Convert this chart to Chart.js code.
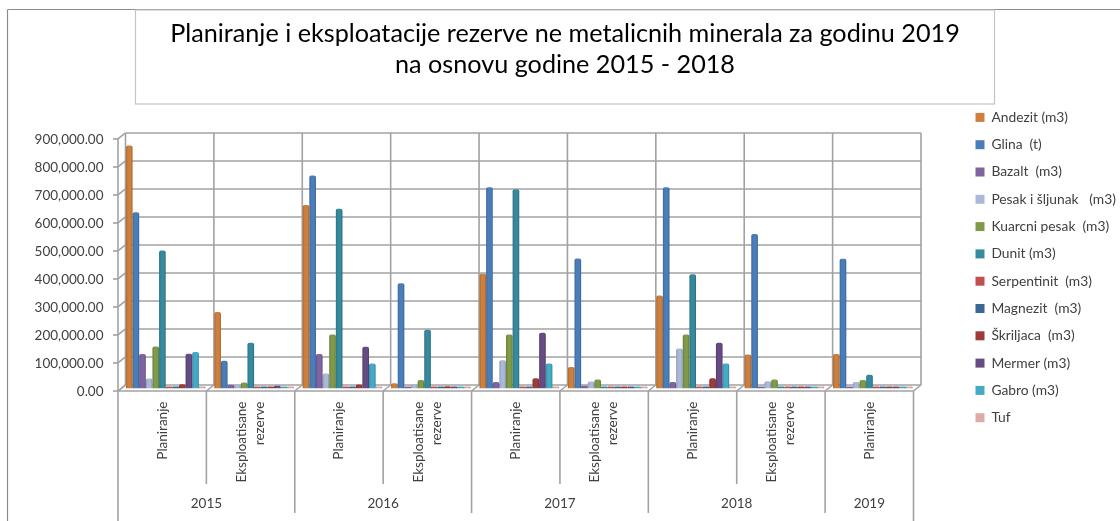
<!DOCTYPE html>
<html>
<head>
<meta charset="utf-8">
<script src="https://cdn.jsdelivr.net/npm/chart.js@4/dist/chart.umd.min.js"></script>
<style>
  body { margin: 0; background: #fff; }
  canvas { display: block; }
</style>
</head>
<body>
<canvas id="myChart" width="1120" height="521"></canvas>
<script>
const titleLines = ['Planiranje i eksploatacije rezerve ne metalicnih minerala za godinu 2019', 'na osnovu godine 2015 - 2018'];
const categories = ['Planiranje', ['Eksploatisane', 'rezerve'], 'Planiranje', ['Eksploatisane', 'rezerve'], 'Planiranje', ['Eksploatisane', 'rezerve'], 'Planiranje', ['Eksploatisane', 'rezerve'], 'Planiranje'];
const years = ['2015', '2016', '2017', '2018', '2019'];
const yearSpans = [2, 2, 2, 2, 1];

const andezit = [868000, 273000, 655000, 19000, 410000, 77000, 332000, 121000, 123000];
const glina = [629000, 99000, 761000, 376000, 719000, 464000, 719000, 552000, 463000];
const bazalt = [123000, 13000, 123000, 3000, 23000, 10000, 23000, 3000, 3000];
const pesak = [36000, 13000, 54000, 14000, 101000, 25000, 143000, 26000, 23000];
const kuarcni = [150000, 21000, 193000, 30000, 193000, 32000, 193000, 32000, 30000];
const dunit = [493000, 163000, 642000, 210000, 712000, 3000, 408000, 2000, 49000];
const serpentinit = [2000, 3000, 2000, 2000, 2000, 2000, 2000, 2000, 3000];
const magnezit = [2000, 3000, 2000, 2000, 2000, 2000, 2000, 2000, 2000];
const skriljaca = [15000, 3000, 14000, 8000, 37000, 2000, 37000, 3000, 3000];
const mermer = [124000, 10000, 149000, 3000, 199000, 2000, 163000, 2000, 2000];
const gabro = [130000, 3000, 89000, 3000, 89000, 2000, 89000, 2000, 2000];
const tuf = [2000, 2000, 2000, 2000, 2000, 2000, 2000, 2000, 2000];

const seriesNames = ['Andezit (m3)', 'Glina  (t)', 'Bazalt  (m3)', 'Pesak i šljunak   (m3)', 'Kuarcni pesak  (m3)', 'Dunit (m3)', 'Serpentinit  (m3)', 'Magnezit  (m3)', 'Škriljaca  (m3)', 'Mermer (m3)', 'Gabro (m3)', 'Tuf'];
const seriesValues = [andezit, glina, bazalt, pesak, kuarcni, dunit, serpentinit, magnezit, skriljaca, mermer, gabro, tuf];
const seriesColors = ['#cf7f3c', '#4a7ebb', '#8064a2', '#aab9d7', '#7f9a48', '#358a9f', '#c0504d', '#3c6696', '#9c3c3a', '#664b85', '#44abc6', '#dfa9a8'];

const fontName = 'Lato';
const gridColor = '#a2a2a2';
const textColor = '#404040';
const catPercent = 0.9;

function darker(hex, k) {
  const n = parseInt(hex.slice(1), 16);
  const r = Math.round((n >> 16) * k);
  const g = Math.round(((n >> 8) & 255) * k);
  const b = Math.round((n & 255) * k);
  return `rgb(${r},${g},${b})`;
}

// bars look round in the original, so shade each one from side to side
function barFill(color) {
  return function (c) {
    if (c.dataIndex === undefined || !c.chart.scales.x) {
      return color;
    }
    const x = c.chart.scales.x;
    const w = (x.getPixelForTick(1) - x.getPixelForTick(0)) * catPercent / seriesNames.length;
    const left = x.getPixelForTick(c.dataIndex) + (c.datasetIndex - seriesNames.length / 2) * w;
    const g = c.chart.ctx.createLinearGradient(left, 0, left + w, 0);
    g.addColorStop(0, darker(color, 0.82));
    g.addColorStop(0.3, color);
    g.addColorStop(0.75, color);
    g.addColorStop(1, darker(color, 0.76));
    return g;
  };
}

function line(ctx, x1, y1, x2, y2) {
  ctx.beginPath();
  ctx.moveTo(x1, y1);
  ctx.lineTo(x2, y2);
  ctx.stroke();
}

const frameBack = { dx: 4, dy: -3.5 };
const frameFront = { dx: -3.5, dy: 2.5 };

// walls, floor and gridlines of the fake 3D box, behind the bars
const wallsPlugin = {
  id: 'walls',
  beforeDatasetsDraw(chart) {
    const ctx = chart.ctx;
    const y = chart.scales.y;
    const area = chart.chartArea;
    const catW = (area.right - area.left) / categories.length;
    ctx.save();
    ctx.strokeStyle = gridColor;
    ctx.lineWidth = 1.6;
    y.ticks.forEach(function (t) {
      const py = y.getPixelForValue(t.value);
      line(ctx, area.left + frameBack.dx, py + frameBack.dy, area.right + frameBack.dx, py + frameBack.dy);
      line(ctx, area.left + frameFront.dx - 5, py + frameFront.dy, area.left + frameFront.dx, py + frameFront.dy);
      line(ctx, area.left + frameFront.dx, py + frameFront.dy, area.left + frameBack.dx, py + frameBack.dy);
    });
    const yTop = area.top;
    const yBot = area.bottom;
    line(ctx, area.left + frameFront.dx, yTop + frameFront.dy, area.left + frameFront.dx, yBot + frameFront.dy);
    for (let i = 0; i <= categories.length; i++) {
      const px = area.left + catW * i;
      line(ctx, px + frameBack.dx, yTop + frameBack.dy, px + frameBack.dx, yBot + frameBack.dy);
      line(ctx, px + frameBack.dx, yBot + frameBack.dy, px + frameFront.dx, yBot + frameFront.dy);
    }
    line(ctx, area.left + frameFront.dx, yBot + frameFront.dy, area.right + frameFront.dx, yBot + frameFront.dy);
    ctx.restore();
  },
  afterDraw(chart) {
    const ctx = chart.ctx;
    const area = chart.chartArea;
    const catW = (area.right - area.left) / categories.length;
    const x0 = area.left + frameFront.dx;
    const y0 = area.bottom + frameFront.dy;
    ctx.save();

    // outer border and title box
    ctx.strokeStyle = '#8c8c8c';
    ctx.lineWidth = 1.2;
    line(ctx, 7.5, 9.5, 1120, 9.5);
    line(ctx, 7.5, 9.5, 7.5, 521);
    ctx.strokeStyle = '#c4c4c4';
    ctx.lineWidth = 1.2;
    ctx.strokeRect(135.5, 10, 859, 94);

    // two level category axis under the floor
    ctx.strokeStyle = gridColor;
    ctx.lineWidth = 1.6;
    ctx.fillStyle = textColor;
    ctx.font = '13.5px ' + fontName;
    ctx.textAlign = 'center';
    ctx.textBaseline = 'middle';
    line(ctx, x0, y0, x0, 521);
    let pos = 0;
    years.forEach(function (year, i) {
      const span = yearSpans[i];
      for (let k = 1; k < span; k++) {
        line(ctx, x0 + catW * (pos + k), y0, x0 + catW * (pos + k), 484);
      }
      ctx.fillText(year, x0 + catW * (pos + span / 2), 504);
      pos += span;
      const last = i === years.length - 1;
      line(ctx, x0 + catW * pos, y0, x0 + catW * pos, last ? 521 : 513);
    });
    ctx.restore();
  }
};

// the legend sits further right and lower than its layout box
const legendPlace = {
  id: 'legendPlace',
  beforeLayout(chart) {
    const legend = chart.legend;
    if (!legend.fitDone) {
      const fit = legend.fit;
      legend.fit = function () {
        fit.call(this);
        this.width = 203;
      };
      legend.fitDone = true;
    }
  },
  beforeDraw(chart) {
    chart.legend.left = 962;
    chart.legend.right = 1120;
    chart.legend.top = 97;
  }
};

// two line rotated ticks come out half a line too far right, centre them on the tick
function centreTwoLineTicks(scale) {
  if (scale.twoLineDone) {
    return;
  }
  const compute = scale._computeLabelItems;
  scale._computeLabelItems = function (area) {
    const items = compute.call(this, area);
    items.forEach(function (item) {
      if (Array.isArray(item.label)) {
        item.textOffset -= 9;
      }
    });
    return items;
  };
  scale.twoLineDone = true;
}

const ctx = document.getElementById('myChart').getContext('2d');
const datasets = [];
for (let i = 0; i < seriesNames.length; i++) {
  datasets.push({
    label: seriesNames[i],
    data: seriesValues[i],
    backgroundColor: barFill(seriesColors[i]),
    borderWidth: 0,
    borderRadius: { topLeft: 2, topRight: 2 },
    borderSkipped: 'bottom',
    minBarLength: 2,
    categoryPercentage: catPercent,
    barPercentage: 1
  });
}

new Chart(ctx, {
  type: 'bar',
  data: { labels: categories, datasets: datasets },
  plugins: [wallsPlugin, legendPlace],
  options: {
    responsive: false,
    animation: false,
    layout: { padding: { left: 10, right: 0, top: 0, bottom: 0 } },
    plugins: {
      tooltip: { enabled: false },
      title: {
        display: true,
        text: titleLines,
        color: '#000',
        font: { family: fontName, size: 25.2, weight: 'normal', lineHeight: 1.23 },
        padding: { top: 18, bottom: 56.5 }
      },
      legend: {
        position: 'right',
        align: 'start',
        labels: {
          color: textColor,
          font: { family: fontName, size: 13.8 },
          boxWidth: 9,
          boxHeight: 9,
          padding: 13.5,
          generateLabels(chart) {
            const items = Chart.defaults.plugins.legend.labels.generateLabels(chart);
            items.forEach(function (item, i) {
              item.fillStyle = seriesColors[i];
              item.lineWidth = 0;
            });
            return items;
          }
        }
      }
    },
    scales: {
      x: {
        grid: { display: false },
        border: { display: false },
        afterFit(s) {
          s.height = 132.5;
          centreTwoLineTicks(s);
        },
        ticks: {
          color: textColor,
          font: { family: fontName, size: 13.5, lineHeight: 1.33 },
          minRotation: 90,
          maxRotation: 90,
          autoSkip: false,
          padding: 5,
          labelOffset: -3.5
        }
      },
      y: {
        min: 0,
        max: 900000,
        grid: { display: false },
        border: { display: false },
        afterFit(s) { s.width = 111.5; },
        ticks: {
          color: textColor,
          font: { family: fontName, size: 13.5 },
          stepSize: 100000,
          padding: 10,
          labelOffset: 3.5,
          callback: function (v) {
            return v.toLocaleString('en-US', { minimumFractionDigits: 2, maximumFractionDigits: 2 });
          }
        }
      }
    }
  }
});
</script>
</body>
</html>
